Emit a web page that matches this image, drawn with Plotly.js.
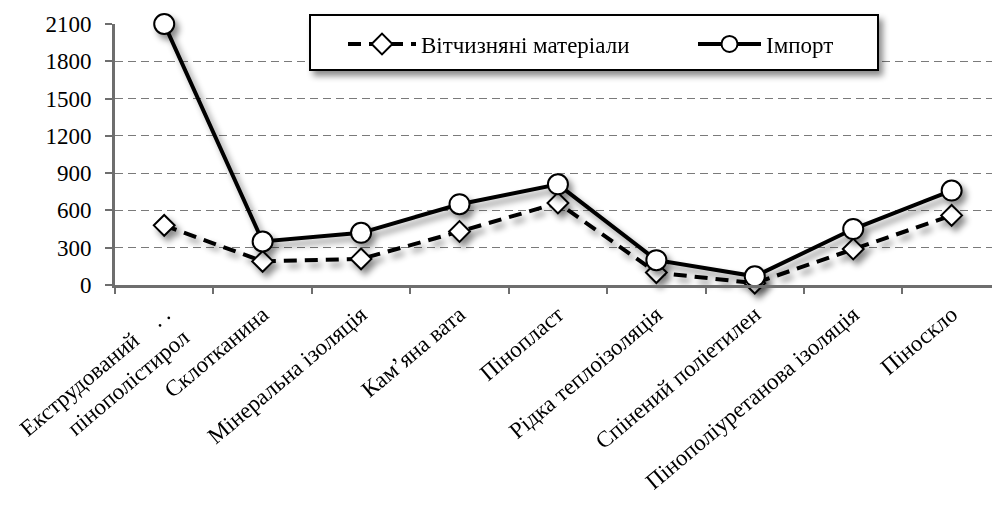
<!DOCTYPE html>
<html>
<head>
<meta charset="utf-8">
<script src="https://cdn.plot.ly/plotly-3.0.1.min.js"></script>
<style>
html,body{margin:0;padding:0;background:#fff;overflow:hidden;}
#chart{width:992px;height:511px;}
</style>
</head>
<body>
<div id="chart"></div>
<script>
const categories = ["Екструдований пінополістирол", "Склотканина", "Мінеральна ізоляція", "Кам’яна вата", "Пінопласт", "Рідка теплоізоляція", "Спінений поліетилен", "Пінополіуретанова ізоляція", "Піноскло"];
const tickLabels = ["Екструдований    . .<br>пінополістирол", "Склотканина", "Мінеральна ізоляція", "Кам’яна вата", "Пінопласт", "Рідка теплоізоляція", "Спінений поліетилен", "Пінополіуретанова ізоляція", "Піноскло"];
const domestic = [480, 190, 210, 430, 660, 100, 15, 290, 560];
const imported = [2100, 350, 420, 650, 810, 200, 70, 450, 760];
const seriesNames = ["Вітчизняні матеріали", "Імпорт"];
const yTicks = [0, 300, 600, 900, 1200, 1500, 1800, 2100];

const FONT = "serif";
const AXIS = "#6e6e6e";

const PL = 115, PW = 877, PT = 24, PH = 261;
const px2x = p => (p - PL) / PW;
const py2y = p => (PT + PH - p) / PH;

const traces = [
  {
    x: categories, y: domestic, name: seriesNames[0], type: "scatter", mode: "lines+markers",
    line: {color: "#000", width: 4, dash: "13px,8px"},
    marker: {symbol: "diamond", size: 16, color: "#fff", line: {color: "#000", width: 2}},
    cliponaxis: false, legend: "legend"
  },
  {
    x: categories, y: imported, name: seriesNames[1], type: "scatter", mode: "lines+markers",
    line: {color: "#000", width: 4},
    marker: {symbol: "circle", size: 20, color: "#fff", line: {color: "#000", width: 2}},
    cliponaxis: false, legend: "legend2"
  }
];

const legendCommon = {
  bgcolor: "rgba(0,0,0,0)", borderwidth: 0, itemwidth: 63,
  font: {family: FONT, size: 23, color: "#000"},
  xanchor: "left", yanchor: "middle", y: py2y(44)
};

const layout = {
  width: 992, height: 511,
  margin: {l: PL, r: 992 - PL - PW, t: PT, b: 511 - PT - PH, autoexpand: false},
  paper_bgcolor: "#fff", plot_bgcolor: "#fff",
  font: {family: FONT, size: 23, color: "#000"},
  showlegend: true,
  legend: Object.assign({}, legendCommon, {x: px2x(348)}),
  legend2: Object.assign({}, legendCommon, {x: px2x(693)}),
  shapes: [{
    type: "rect", xref: "paper", yref: "paper",
    x0: px2x(310), x1: px2x(878), y0: py2y(70), y1: py2y(15),
    fillcolor: "#fff", line: {color: "#000", width: 2}, layer: "above"
  }],
  xaxis: {
    type: "category", range: [-0.5, 8.41],
    tickmode: "array", tickvals: categories, ticktext: tickLabels,
    tickson: "boundaries", ticks: "outside", ticklen: 6, tickwidth: 2, tickcolor: AXIS,
    tickangle: -40, showgrid: false, showline: true, linecolor: AXIS, linewidth: 3,
    zeroline: false, automargin: false, ticklabelstandoff: 4,
    tickfont: {family: FONT, size: 23, color: "#000"}, fixedrange: true
  },
  yaxis: {
    range: [0, 2100], tickmode: "array", tickvals: yTicks,
    ticks: "outside", ticklen: 7, tickwidth: 2, tickcolor: AXIS,
    showline: true, linecolor: AXIS, linewidth: 3, zeroline: false,
    showgrid: true, gridcolor: "#7a7a7a", gridwidth: 1, griddash: "8px,5px", automargin: false,
    tickfont: {family: FONT, size: 23, color: "#000"}, ticklabelstandoff: 9, fixedrange: true
  }
};

Plotly.newPlot("chart", traces, layout, {displayModeBar: false, staticPlot: true}).then(function(gd){
  const NS = "http://www.w3.org/2000/svg";
  const svg = gd.querySelector(".main-svg");
  let defs = svg.querySelector("defs");
  if (!defs) { defs = document.createElementNS(NS, "defs"); svg.insertBefore(defs, svg.firstChild); }
  const f = document.createElementNS(NS, "filter");
  f.setAttribute("id", "softShadow");
  f.setAttribute("x", "-20%"); f.setAttribute("y", "-20%");
  f.setAttribute("width", "140%"); f.setAttribute("height", "160%");
  const ds = document.createElementNS(NS, "feDropShadow");
  ds.setAttribute("dx", "4"); ds.setAttribute("dy", "5");
  ds.setAttribute("stdDeviation", "3");
  ds.setAttribute("flood-color", "#000"); ds.setAttribute("flood-opacity", "0.45");
  f.appendChild(ds); defs.appendChild(f);
  gd.querySelectorAll(".scatterlayer .trace").forEach(function(t){ t.setAttribute("filter", "url(#softShadow)"); });
  gd.querySelectorAll(".shapelayer path").forEach(function(p){ p.setAttribute("filter", "url(#softShadow)"); });
  gd.querySelectorAll(".traces").forEach(function(tr){
    const txt = tr.querySelector(".legendtext");
    const ln = tr.querySelector(".legendlines path");
    const pts = tr.querySelectorAll(".legendpoints path");
    if (!txt || !ln) return;
    const tx = parseFloat(txt.getAttribute("x"));
    const L = tx - 5;
    ln.setAttribute("d", "M0,0h" + L);
    pts.forEach(function(p){ p.setAttribute("transform", "translate(" + (L / 2) + ",0)"); });
  });
});
</script>
</body>
</html>
